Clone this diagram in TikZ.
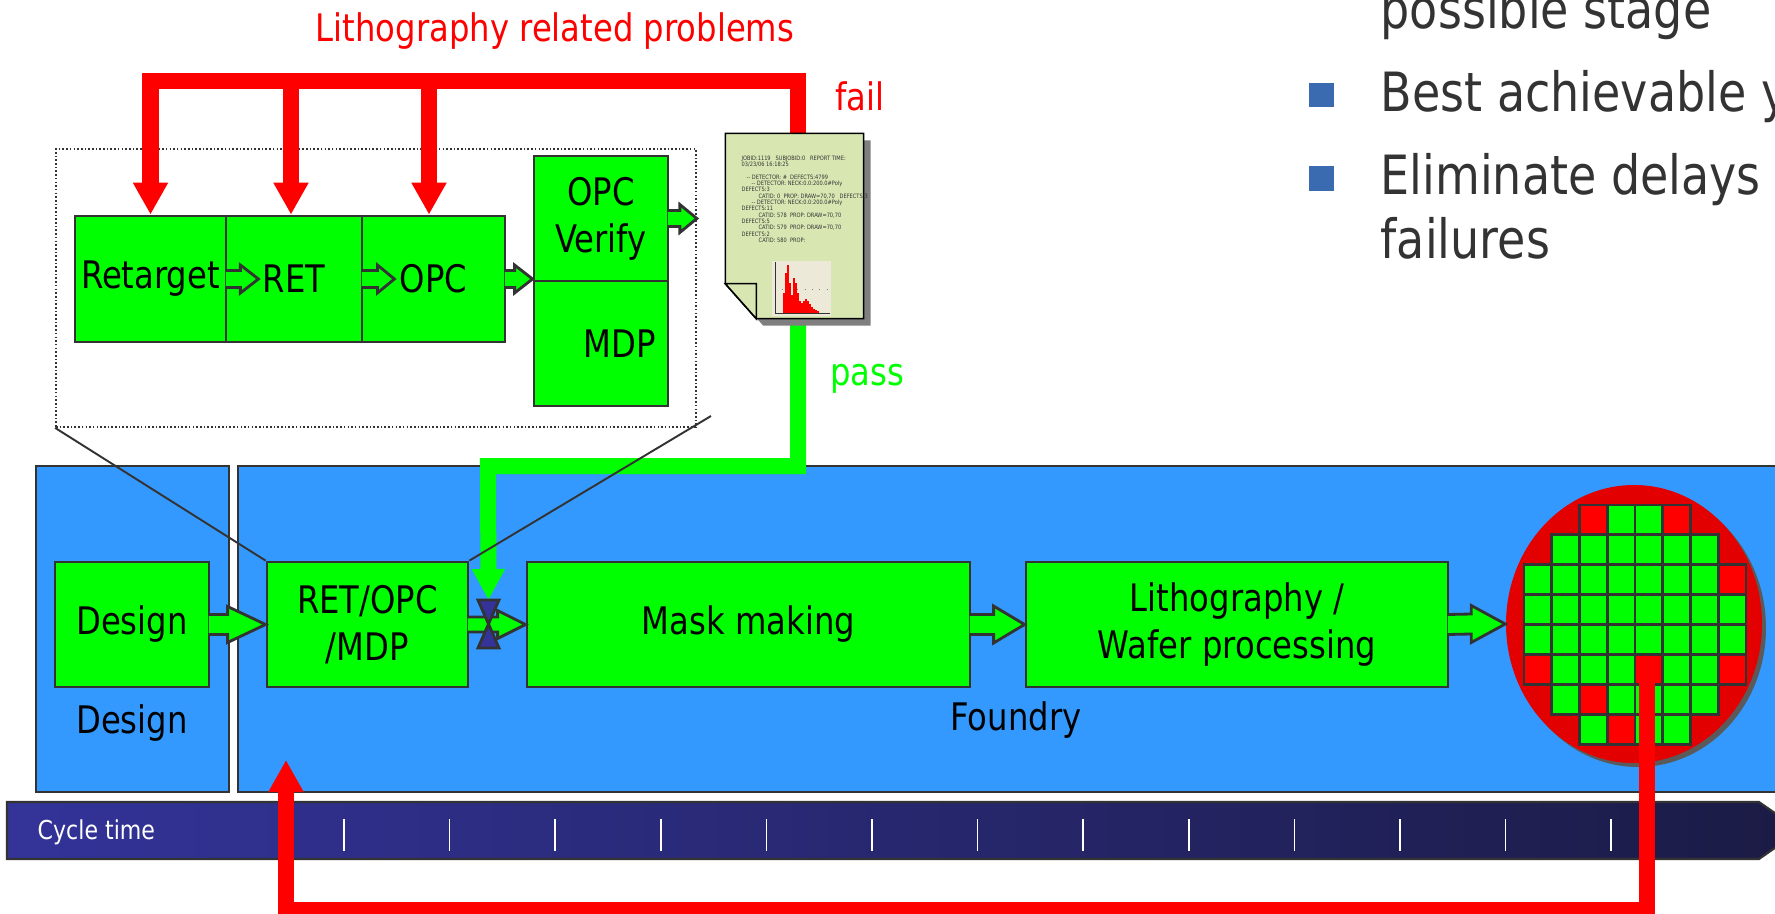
\documentclass[tikz,border=0pt]{standalone}
\usepackage{fontspec}
\setmainfont{DejaVu Sans}[FakeStretch=0.85]
\usetikzlibrary{arrows.meta,calc,positioning,shapes.geometric}
\definecolor{boxgreen}{HTML}{00FF00}
\definecolor{panelblue}{HTML}{3399FF}
\definecolor{edgegray}{HTML}{333333}
\definecolor{barred}{HTML}{FF0000}
\definecolor{waferred}{HTML}{E30000}
\definecolor{tienavy}{HTML}{333399}
\definecolor{timeleft}{HTML}{333399}
\definecolor{timeright}{HTML}{1B1B45}
\definecolor{paper}{HTML}{D8E7B2}
\definecolor{plotbg}{HTML}{ECE9D8}
\definecolor{bulletblue}{HTML}{3A6BB0}
\definecolor{textgray}{HTML}{333333}
\definecolor{shadowgray}{HTML}{7F7F7F}
\definecolor{wafershade}{HTML}{5A5A5A}
\tikzset{
  greenbox/.style={draw=edgegray,fill=boxgreen,line width=0.8pt,inner sep=0pt,align=center,font=\fontsize{10.8}{13.4}\selectfont},
  bluepanel/.style={draw=edgegray,fill=panelblue,line width=0.8pt},
  panellabel/.style={inner sep=0pt,font=\fontsize{10.8}{13}\selectfont},
  blockarr/.style={draw=edgegray,fill=boxgreen,line width=0.8pt,line join=miter},
  zoomframe/.style={draw=edgegray,dash pattern=on 0.45pt off 0.6pt,line width=0.5pt,inner sep=0pt},
  zoomline/.style={edgegray,line width=0.55pt},
  redbar/.style={barred,line width=1.65mm,-{Triangle[width=3.3mm,length=3.2mm]}},
  greenbar/.style={boxgreen,line width=1.6mm,-{Triangle[width=3.1mm,length=3.1mm]}},
  chip/.style={draw=edgegray,fill=boxgreen,line width=0.8pt},
  tiestyle/.style={draw=edgegray,fill=tienavy,line width=0.8pt},
  tick/.style={white,line width=0.45pt},
  page/.style={draw=black,fill=paper,line width=0.45pt},
  reporttext/.style={inner sep=0pt,align=left,text=edgegray,font=\fontsize{1.7}{1.8}\selectfont},
  bullettext/.style={textgray,inner sep=0pt,font=\fontsize{15.4}{18}\selectfont},
  redlabel/.style={barred,inner sep=0pt,font=\fontsize{10.8}{13}\selectfont},
  greenlabel/.style={boxgreen,inner sep=0pt,font=\fontsize{10.8}{13}\selectfont}
}
% block arrow: start, tip, head length, shaft half height, head half height
\newcommand{\blockarrow}[5]{%
  \filldraw[blockarr] ($(#1)+(-1.5,-#4)$) -- ($(#2)+(-#3,-#4)$) -- ($(#2)+(-#3,-#5)$) -- (#2)
    -- ($(#2)+(-#3,#5)$) -- ($(#2)+(-#3,#4)$) -- ($(#1)+(-1.5,#4)$);}

\begin{document}
\begin{tikzpicture}[x=0.1mm,y=-0.1mm]
  \useasboundingbox (0,0) rectangle (1775,914);
  \clip (0,0) rectangle (1775,914);

  % design / foundry panels
  \draw[bluepanel] (36,466) rectangle (229,792);
  \draw[bluepanel] (238,466) rectangle (1790,792);
  \node[panellabel,anchor=base] (designlbl) at (132,733) {Design};
  \node[panellabel,anchor=base] (foundrylbl) at (1016,730) {Foundry};

  % detail of the RET/OPC step
  \node[zoomframe,minimum width=64mm,minimum height=27.8mm] (zoombox) at (376,288) {};
  \node[greenbox,minimum width=15.1mm,minimum height=12.6mm] (retarget) at (150.5,279) {Retarget};
  \node[greenbox,minimum width=13.6mm,minimum height=12.6mm] (ret) at (294,279) {RET};
  \node[greenbox,minimum width=14.3mm,minimum height=12.6mm] (opc) at (433.5,279) {OPC};
  \node[greenbox,minimum width=13.4mm,minimum height=12.5mm] (verify) at (601,218.5) {OPC\\Verify};
  \node[greenbox,minimum width=13.4mm,minimum height=12.5mm] (mdp) at (601,343.5) {\hspace*{3.8mm}MDP};

  % main flow
  \node[greenbox,minimum width=15.4mm,minimum height=12.5mm] (design) at (132,624.5) {Design};
  \node[greenbox,minimum width=20.1mm,minimum height=12.5mm] (retopc) at (367.5,624.5) {RET/OPC\\/MDP};
  \node[greenbox,minimum width=44.3mm,minimum height=12.5mm] (mask) at (748.5,624.5) {Mask making};
  \node[greenbox,minimum width=42.2mm,minimum height=12.5mm] (litho) at (1237,624.5) {Lithography /\\Wafer processing};

  % wafer with dies
  \node[ellipse,fill=wafershade,inner sep=0pt,minimum width=25.6mm,minimum height=27.8mm] (wafershadow) at (1638,628) {};
  \node[ellipse,fill=waferred,inner sep=0pt,minimum width=25.6mm,minimum height=27.8mm] (wafer) at (1634,624) {};
  \foreach \row/\first/\last in {0/2/5,1/1/6,2/0/7,3/0/7,4/0/7,5/0/7,6/1/6,7/2/5}
    \foreach \col in {\first,...,\last}
      \draw[chip] ({1524+\col*27.75},{505+\row*29.9}) rectangle ++(27.75,29.9);
  \foreach \col/\row in {2/0,5/0,7/2,0/5,4/5,7/5,2/6,3/7}
    \draw[chip,fill=barred] ({1524+\col*27.75},{505+\row*29.9}) rectangle ++(27.75,29.9);
  \coordinate (failchip) at (1647,670);

  \coordinate (rettip) at ([xshift=3.1mm]retarget.east);
  \coordinate (opctip) at ([xshift=3.1mm]ret.east);
  \blockarrow{retarget.east}{rettip}{18}{8.5}{14}
  \blockarrow{ret.east}{opctip}{17}{8.5}{14}
  \blockarrow{opc.east}{verify.west |- opc.east}{18}{8.5}{14}
  \blockarrow{verify.east}{zoombox.east |- verify.east}{17}{8}{14}
  \blockarrow{design.east}{retopc.west}{38}{10}{18}
  \blockarrow{retopc.east}{mask.west}{28}{7.5}{14}
  \blockarrow{mask.east}{litho.west}{31}{10}{18.5}
  \blockarrow{litho.east}{wafer.west}{34}{10}{18.5}

  % cycle time bar
  \shadedraw[left color=timeleft,right color=timeright,draw=edgegray,line width=0.6pt]
    (7,802) -- (1759,802) -- (1800,830.5) -- (1759,859) -- (7,859) -- cycle;
  \foreach \i in {0,...,12}
    \draw[tick] ({344+\i*105.6},819) -- ++(0,32);
  \node[anchor=base west,inner sep=0pt,white,font=\fontsize{7.4}{9}\selectfont] (cycle) at (37,839) {Cycle time};

  % report page
  \node[inner sep=0pt,minimum width=13.7mm,minimum height=18.4mm] (report) at (794.5,226) {};
  \coordinate (passturn) at (488,466);
  \coordinate (tie) at (488.5,624);
  \draw[greenbar] ([xshift=0.35mm]report.south) |- (passturn) -- ([yshift=2.4mm]tie);
  \filldraw[tiestyle] (478,600) -- (499,600) -- (478,648) -- (499,648) -- cycle;

  % feedback loops
  \coordinate (rettop) at ([xshift=-0.3mm]ret.north);
  \coordinate (opctop) at ([xshift=-0.45mm]opc.north);
  \coordinate (loopend) at (286,760);
  \draw[redbar] ([xshift=0.35mm]report.north) |- (retarget.north |- 0,81) -- (retarget.north);
  \draw[redbar] (rettop |- 0,81) -- (rettop);
  \draw[redbar] (opctop |- 0,81) -- (opctop);
  \draw[redbar] (failchip) |- (loopend |- 0,910) -- (loopend);

  \fill[shadowgray] ([shift={(0.7mm,-0.7mm)}]report.north west) -- ([shift={(0.7mm,-0.7mm)}]report.north east)
    -- ([shift={(0.7mm,-0.7mm)}]report.south east) -- ([shift={(3.8mm,-0.7mm)}]report.south west)
    -- ([shift={(0.7mm,2.8mm)}]report.south west) -- cycle;
  \filldraw[page] (report.north west) -- (report.north east) -- (report.south east)
    -- ([xshift=3.1mm]report.south west) -- ([yshift=3.5mm]report.south west) -- cycle;
  \filldraw[page] ([yshift=3.5mm]report.south west) -- ([xshift=3.1mm,yshift=3.5mm]report.south west)
    -- ([xshift=3.1mm]report.south west) -- cycle;
  \node[reporttext,anchor=north west] (log) at (741,155) {%
    JOBID:1119\ \ \ SUBJOBID:0\ \ \ REPORT TIME:\\
    03/23/06 16:18:25\\[1.8pt]
    \hspace*{0.5mm}-{}- DETECTOR: \#\ \ DEFECTS:4799\\
    \hspace*{1mm}-{}- DETECTOR: NECK:0.0:200.0\#Poly\\
    DEFECTS:3\\
    \hspace*{1.7mm}CATID: 0\ \ PROP: DRAW=70,70\ \ \ DEFECTS:3\\
    \hspace*{1mm}-{}- DETECTOR: NECK:0.0:200.0\#Poly\\
    DEFECTS:11\\
    \hspace*{1.7mm}CATID: 578\ \ PROP: DRAW=70,70\\
    DEFECTS:5\\
    \hspace*{1.7mm}CATID: 579\ \ PROP: DRAW=70,70\\
    DEFECTS:2\\
    \hspace*{1.7mm}CATID: 580\ \ PROP:};
  % defect histogram
  \fill[plotbg] (772,261) rectangle (831,316);
  \draw[gray,dotted,line width=0.1pt] (775,289) -- (830,289);
  \foreach \h [count=\i] in {20,40,48,30,18,35,30,20,12,10,12,14,12,9,6,4,3,2}
    \fill[barred] ({781+\i*2},313) rectangle ++(1.7,-\h);
  \draw[edgegray,line width=0.15pt] (775,262) -- (775,313) -- (830,313);

  % projection of the detail box
  \coordinate (zoomcorner) at (711,416);
  \draw[zoomline] (zoombox.south west) -- (retopc.north west);
  \draw[zoomline] (retopc.north east) -- (zoomcorner);

  \node[redlabel,anchor=base] (problems) at (555,41) {Lithography related problems};
  \node[redlabel,anchor=base] (faillbl) at (860,110) {fail};
  \node[greenlabel,anchor=base] (passlbl) at (867,385) {pass};

  % bullet list
  \fill[bulletblue] (1309,83) rectangle (1334,107);
  \fill[bulletblue] (1309,166) rectangle (1334,191);
  \node[bullettext,anchor=base west] (stage) at (1380,28) {possible stage};
  \node[bullettext,anchor=base west] (best) at (1380,111) {Best achievable y};
  \node[bullettext,anchor=base west] (delays) at (1380,194) {Eliminate delays};
  \node[bullettext,anchor=base west] (failures) at (1380,258) {failures};
\end{tikzpicture}
\end{document}
